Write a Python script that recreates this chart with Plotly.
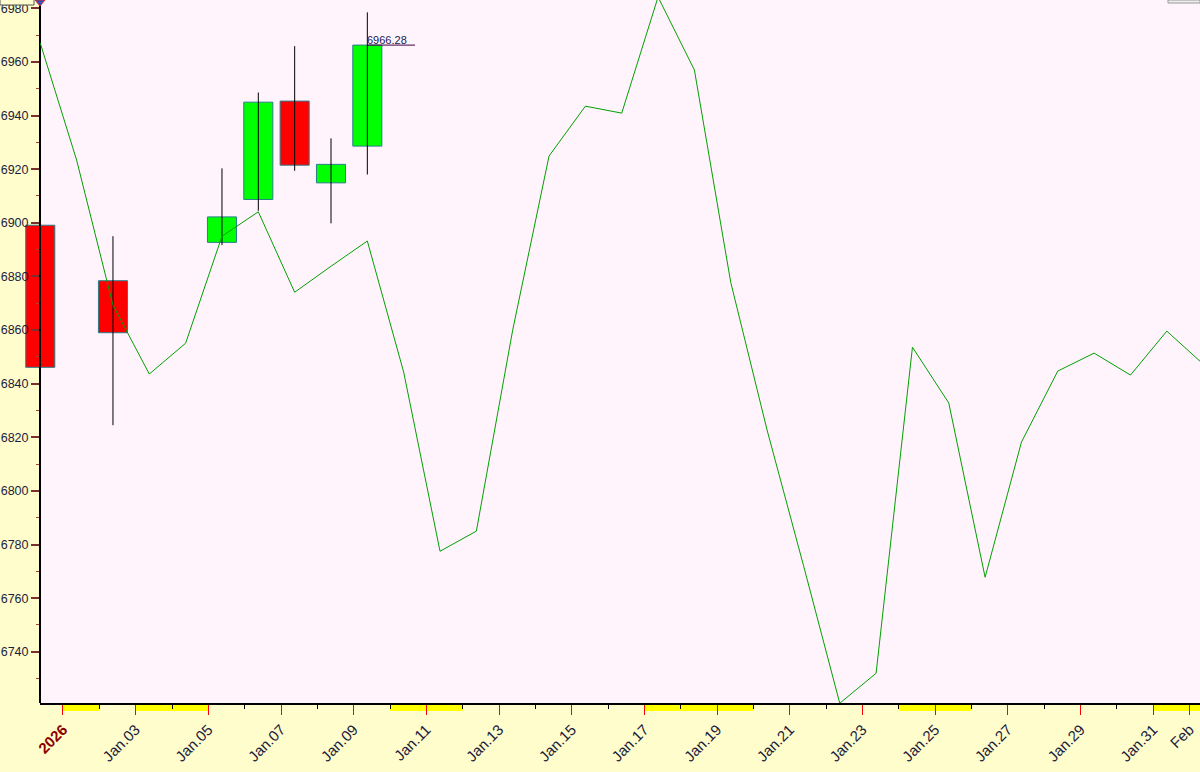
import plotly.graph_objects as go
import pandas as pd

# ---------------- data ----------------
line_dates = [
    "2025-12-31 09:00", "2026-01-01 09:00", "2026-01-02 09:00", "2026-01-03 09:00",
    "2026-01-04 09:00", "2026-01-05 09:00", "2026-01-06 09:00", "2026-01-07 09:00",
    "2026-01-08 09:00", "2026-01-09 09:00", "2026-01-10 09:00", "2026-01-11 09:00",
    "2026-01-12 09:00", "2026-01-13 09:00", "2026-01-14 09:00", "2026-01-15 09:00",
    "2026-01-16 09:00", "2026-01-17 09:00", "2026-01-18 09:00", "2026-01-19 09:00",
    "2026-01-20 09:00", "2026-01-21 09:00", "2026-01-22 09:00", "2026-01-23 09:00",
    "2026-01-24 09:00", "2026-01-25 09:00", "2026-01-26 09:00", "2026-01-27 09:00",
    "2026-01-28 09:00", "2026-01-29 09:00", "2026-01-30 09:00", "2026-01-31 09:00",
    "2026-02-01 09:00",
]
line_values = [
    6967.0, 6923.4, 6869.3, 6843.6, 6855.1, 6895.0, 6904.1, 6874.1,
    6883.8, 6893.2, 6844.3, 6777.5, 6785.0, 6860.0, 6924.9, 6943.5,
    6940.9, 6984.2, 6957.0, 6877.8, 6822.7, 6772.3, 6720.8, 6732.0,
    6853.6, 6832.8, 6767.8, 6818.2, 6844.7, 6851.4, 6843.2, 6859.6,
    6847.3,
]

candle_dates = ["2025-12-31 09:00", "2026-01-02 09:00", "2026-01-05 09:00",
                "2026-01-06 09:00", "2026-01-07 09:00", "2026-01-08 09:00",
                "2026-01-09 09:00"]
candle_open = [6899.1, 6878.4, 6892.7, 6908.7, 6945.4, 6914.9, 6928.6]
candle_high = [6899.6, 6895.0, 6920.3, 6948.6, 6965.9, 6931.5, 6978.5]
candle_low = [6845.8, 6824.5, 6891.7, 6904.5, 6919.4, 6899.8, 6918.0]
candle_close = [6846.1, 6859.0, 6902.2, 6945.0, 6921.5, 6921.8, 6966.28]

tick_dates = ["2026-01-01", "2026-01-03", "2026-01-05", "2026-01-07", "2026-01-09",
              "2026-01-11", "2026-01-13", "2026-01-15", "2026-01-17", "2026-01-19",
              "2026-01-21", "2026-01-23", "2026-01-25", "2026-01-27", "2026-01-29",
              "2026-01-31", "2026-02-01"]
tick_labels = ["<b><span style='color:#8b0000'>2026</span></b>", "Jan.03", "Jan.05",
               "Jan.07", "Jan.09", "Jan.11", "Jan.13", "Jan.15", "Jan.17", "Jan.19",
               "Jan.21", "Jan.23", "Jan.25", "Jan.27", "Jan.29", "Jan.31", "Feb"]

non_trading_days = ["2026-01-01", "2026-01-03", "2026-01-04", "2026-01-10",
                    "2026-01-11", "2026-01-17", "2026-01-18", "2026-01-19",
                    "2026-01-24", "2026-01-25", "2026-01-31", "2026-02-01"]

# ---------------- styling / layout constants ----------------
FONT = "Liberation Sans, Arial, sans-serif"
UP = "#00ff00"
DOWN = "#ff0000"
BORDER = "#2a7d8c"
PAPER = "#fffdcc"
PLOTBG = "#fff4fc"
DAY_MS = 86400000
W, H = 1200, 772
LEFT = 40            # y-axis position in px
PLOT_H = 703         # plot-area height in px

x_r0 = pd.Timestamp("2025-12-31 08:49")
x_r1 = pd.Timestamp("2026-02-01 06:55")
# wide invisible axis (x) with the same scale as the visible date axis (x2),
# so the first candle body may spill into the left margin as in the reference
xw_r0 = x_r0 - (x_r1 - x_r0) * (LEFT / (W - LEFT))

fig = go.Figure()

# candle bodies and wicks on the wide invisible axis
bases = [min(o, c) for o, c in zip(candle_open, candle_close)]
heights = [abs(c - o) for o, c in zip(candle_open, candle_close)]
colors = [UP if c >= o else DOWN for o, c in zip(candle_open, candle_close)]

wx, wy = [], []
for d, lo, hi in zip(candle_dates, candle_low, candle_high):
    wx += [d, d, None]
    wy += [lo, hi, None]
fig.add_trace(go.Scatter(x=wx, y=wy, mode="lines",
                         line=dict(color="#000000", width=1),
                         xaxis="x", yaxis="y",
                         hoverinfo="skip", showlegend=False))
fig.add_trace(go.Bar(x=candle_dates, y=heights, base=bases,
                     width=[0.8 * DAY_MS] * len(candle_dates),
                     marker=dict(color=colors, line=dict(color=BORDER, width=1)),
                     xaxis="x", yaxis="y", showlegend=False))

# green line on the visible date axis (clipped to the plot area)
fig.add_trace(go.Scatter(x=line_dates, y=line_values, mode="lines",
                         line=dict(color="#00a000", width=1),
                         xaxis="x2", yaxis="y", showlegend=False))

shapes = []
# plot-area background
shapes.append(dict(type="rect", xref="paper", yref="paper",
                   x0=LEFT / W, x1=1, y0=0, y1=1, fillcolor=PLOTBG,
                   line=dict(width=0), layer="below"))
# yellow non-trading bands under the axis
for d in non_trading_days:
    t0 = pd.Timestamp(d)
    shapes.append(dict(type="rect", xref="x2", yref="paper",
                       x0=t0, x1=t0 + pd.Timedelta(days=1),
                       y0=-8 / PLOT_H, y1=0, fillcolor="#ffff00",
                       line=dict(width=0), layer="below"))

# last price marker line
last_t = pd.Timestamp(candle_dates[-1])
shapes.append(dict(type="line", xref="x2", yref="y",
                   x0=last_t, x1=last_t + pd.Timedelta(hours=31.5),
                   y0=candle_close[-1], y1=candle_close[-1],
                   line=dict(color="#400040", width=1)))

# small UI artifacts at top
shapes.append(dict(type="rect", xref="paper", yref="paper",
                   x0=1168 / W, x1=1.0, y0=1 - 3 / PLOT_H, y1=1.0,
                   fillcolor="#eeeeee", line=dict(color="#999999", width=1)))
shapes.append(dict(type="rect", xref="paper", yref="paper",
                   x0=0, x1=34 / W, y0=1 - 5 / PLOT_H, y1=1.02,
                   fillcolor="#fffdd0", line=dict(color="#555555", width=1)))
cx = LEFT / W
hw = 5 / W
shapes.append(dict(type="path", xref="paper", yref="paper",
                   path=f"M {cx - hw} 1 L {cx} {1 - 6 / PLOT_H} L {cx + hw} 1 Z",
                   fillcolor="#3050c0", line=dict(color="#e02020", width=1)))

annotations = [
    dict(x=last_t, y=candle_close[-1], xref="x2", yref="y",
         text=f"{candle_close[-1]:.2f}", showarrow=False,
         xanchor="left", yanchor="bottom", xshift=-2, yshift=-3,
         font=dict(family=FONT, size=11, color="#202050")),
]

fig.update_layout(
    template="none",
    width=W, height=H,
    margin=dict(l=0, r=0, t=0, b=H - PLOT_H, pad=0),
    paper_bgcolor=PAPER,
    plot_bgcolor="rgba(0,0,0,0)",
    showlegend=False,
    barmode="overlay",
    shapes=shapes,
    annotations=annotations,
    xaxis=dict(
        type="date", domain=[0, 1], anchor="y",
        range=[xw_r0, x_r1], visible=False, showgrid=False,
        zeroline=False, fixedrange=True,
    ),
    xaxis2=dict(
        type="date", domain=[LEFT / W, 1], anchor="y",
        range=[x_r0, x_r1],
        tickmode="array", tickvals=tick_dates, ticktext=tick_labels,
        tickangle=-45,
        ticks="outside", ticklen=10, tickcolor="#ff0000", tickwidth=1,
        minor=dict(tickmode="linear", tick0="2026-01-01", dtick=DAY_MS,
                   ticks="outside", ticklen=4, tickcolor="#000000", tickwidth=1),
        tickfont=dict(family=FONT, size=15, color="#1c1c3c"),
        showline=True, linecolor="#000000", linewidth=2,
        showgrid=False, zeroline=False, automargin=False,
        fixedrange=True,
    ),
    yaxis=dict(
        anchor="free", position=LEFT / W,
        range=[6720.9, 6983.1],
        tickmode="linear", tick0=6740, dtick=20,
        ticks="outside", ticklen=8, tickcolor="#7a3030", tickwidth=2,
        ticklabelstandoff=0,
        minor=dict(tickmode="linear", tick0=6730, dtick=10,
                   ticks="outside", ticklen=3, tickcolor="#b04040", tickwidth=1),
        tickfont=dict(family=FONT, size=12.5, color="#1c1c3c"),
        showline=True, linecolor="#000000", linewidth=2,
        showgrid=False, zeroline=False, automargin=False,
        fixedrange=True, layer="above traces",
    ),
)

fig.write_html("out.html",
               config={"displayModeBar": False},
               post_script="document.body.style.margin='0';"
                           "document.body.style.overflow='hidden';")
